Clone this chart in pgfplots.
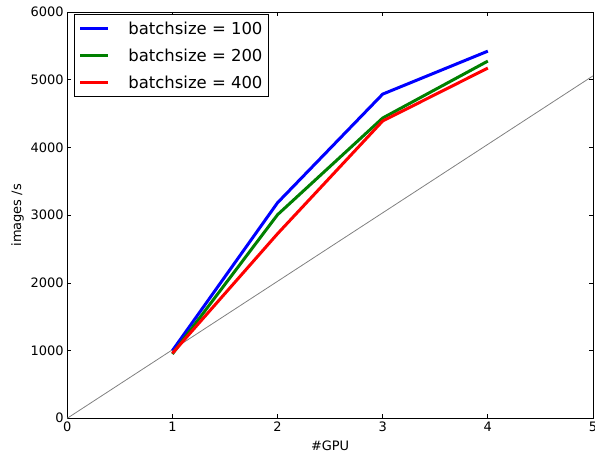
\documentclass[border={8pt 0pt 2pt 4pt}]{standalone}
\usepackage{pgfplots}
\pgfplotsset{compat=1.18}
\usepackage{fontspec}
\setmainfont{DejaVu Sans}
\definecolor{mplgreen}{rgb}{0,0.5,0}
\begin{document}
\begin{tikzpicture}[trim axis right]
 \begin{axis}[
  scale only axis, width=527pt, height=407pt,
  xmin=0, xmax=5, ymin=0, ymax=6000,
  xtick={0,1,...,5}, ytick={0,1000,...,6000},
  scaled y ticks=false,
  /pgf/number format/assume math mode=true,
  /pgf/number format/set thousands separator={},
  tick label style={font=\fontsize{13}{15}\selectfont},
  label style={font=\fontsize{13}{15}\selectfont},
  xlabel={\#GPU}, ylabel={images /s},
  xlabel style={yshift=-2pt},
  major tick length=4pt, tick style={black, line width=0.8pt},
  axis line style={line width=0.9pt},
  legend style={at={(0.013,0.995)}, anchor=north west, draw=black, line width=0.9pt,
    font=\fontsize{16.5}{19}\selectfont, row sep=9pt, inner xsep=4pt, inner ysep=5pt},
  legend cell align=left,
  legend image code/.code={\draw[#1] (6pt,0pt) -- (34pt,0pt);},
  every axis plot/.append style={line width=3pt},
 ]
  \addplot[gray, line width=0.8pt, forget plot] coordinates {(0,0) (5,5060)};
  \addplot[blue] coordinates {(1,1000) (2,3185) (3,4790) (4,5425)};
  \addplot[mplgreen] coordinates {(1,950) (2,3008) (3,4437) (4,5278)};
  \addplot[red] coordinates {(1,960) (2,2727) (3,4393) (4,5175)};
  \legend{\hspace{17pt}batchsize = 100, \hspace{17pt}batchsize = 200, \hspace{17pt}batchsize = 400}
 \end{axis}
\end{tikzpicture}
\end{document}
